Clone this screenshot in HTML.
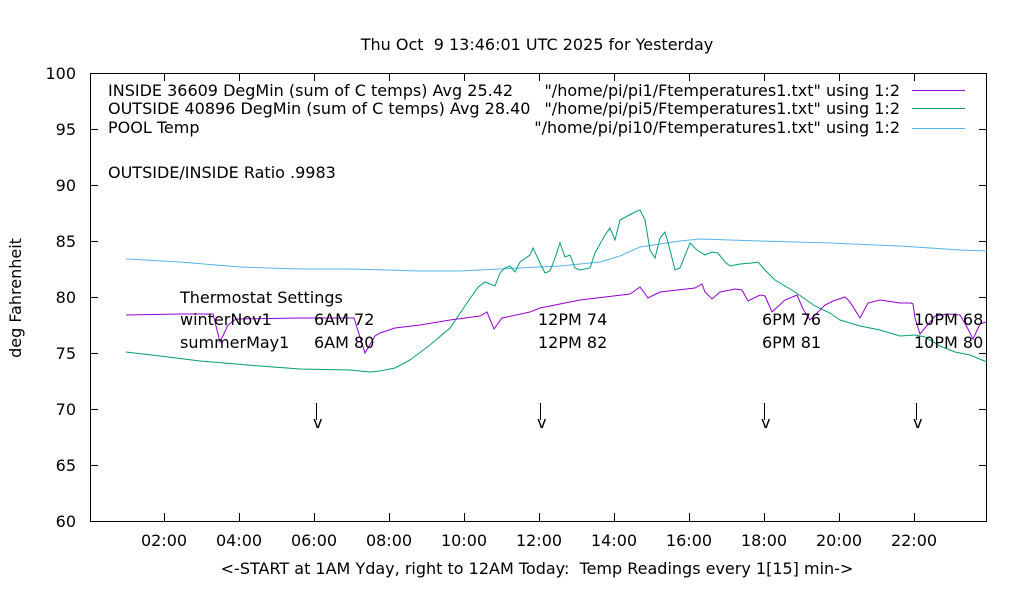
<!DOCTYPE html><html><head><style>body{margin:0;background:#fff}svg text{font-family:"DejaVu Sans",sans-serif;font-size:16px;fill:#000;white-space:pre}</style></head><body>
<svg width="1020" height="600" xmlns="http://www.w3.org/2000/svg" xml:space="preserve">
<text x="537" y="50" text-anchor="middle">Thu Oct  9 13:46:01 UTC 2025 for Yesterday</text>
<rect x="90.5" y="73.5" width="896" height="448" fill="none" stroke="#000"/>
<g stroke="#000">
<path d="M90 129.5h8M90 185.5h8M90 241.5h8M90 297.5h8M90 353.5h8M90 409.5h8M90 465.5h8M987 129.5h-8M987 185.5h-8M987 241.5h-8M987 297.5h-8M987 353.5h-8M987 409.5h-8M987 465.5h-8"/>
<path d="M164.5 521v-8M239.5 521v-8M314.5 521v-8M389.5 521v-8M464.5 521v-8M539.5 521v-8M614.5 521v-8M689.5 521v-8M764.5 521v-8M839.5 521v-8M914.5 521v-8M164.5 73v8M239.5 73v8M314.5 73v8M389.5 73v8M464.5 73v8M539.5 73v8M614.5 73v8M689.5 73v8M764.5 73v8M839.5 73v8M914.5 73v8"/>
</g>
<g text-anchor="end"><text x="76" y="79">100</text><text x="76" y="135">95</text><text x="76" y="191">90</text><text x="76" y="247">85</text><text x="76" y="303">80</text><text x="76" y="359">75</text><text x="76" y="415">70</text><text x="76" y="471">65</text><text x="76" y="527">60</text></g>
<g text-anchor="middle"><text x="164" y="546">02:00</text><text x="239" y="546">04:00</text><text x="314" y="546">06:00</text><text x="389" y="546">08:00</text><text x="464" y="546">10:00</text><text x="539" y="546">12:00</text><text x="614" y="546">14:00</text><text x="689" y="546">16:00</text><text x="764" y="546">18:00</text><text x="839" y="546">20:00</text><text x="914" y="546">22:00</text></g>
<text x="537" y="574" text-anchor="middle">&lt;-START at 1AM Yday, right to 12AM Today:  Temp Readings every 1[15] min-&gt;</text>
<text transform="translate(21,298) rotate(-90)" text-anchor="middle">deg Fahrenheit</text>
<text x="108" y="96">INSIDE 36609 DegMin (sum of C temps) Avg 25.42</text>
<text x="108" y="114">OUTSIDE 40896 DegMin (sum of C temps) Avg 28.40</text>
<text x="108" y="133">POOL Temp</text>
<g text-anchor="end"><text x="900" y="96">"/home/pi/pi1/Ftemperatures1.txt" using 1:2</text><text x="900" y="114">"/home/pi/pi5/Ftemperatures1.txt" using 1:2</text><text x="900" y="133">"/home/pi/pi10/Ftemperatures1.txt" using 1:2</text></g>
<path d="M912 90.5h53" stroke="#9400d3"/><path d="M912 108.5h53" stroke="#009e73"/><path d="M912 128.5h53" stroke="#56b4e9"/>
<text x="108" y="178">OUTSIDE/INSIDE Ratio .9983</text>
<polyline fill="none" stroke="#56b4e9" points="126,259 180,262 240,267 300,269 350,269 420,271 460,271 520,268 560,266 600,262 620,256 640,247 680,241 700,239 760,241 830,243 900,246 960,250 987,251"/>
<polyline fill="none" stroke="#009e73" points="126,352 160,356 200,361 260,366 300,369 350,370 370,372 380,371 395,368 410,360 430,345 450,328 465,306 478,287 485,282 495,286 500,273 505,268 510,266 515,272 520,262 530,255 533,248 540,263 545,273 550,271 555,258 560,243 565,257 570,255 575,268 580,270 590,268 595,253 605,235 610,228 615,240 620,220 635,212 640,210 645,220 650,250 655,258 660,238 665,232 670,250 675,270 680,268 690,243 697,250 705,255 712,252 718,253 725,262 730,266 740,264 752,263 758,262 765,270 775,280 795,292 815,306 830,313 840,320 860,326 880,330 900,336 915,335 925,337 940,346 955,352 970,355 987,362"/>
<polyline fill="none" stroke="#9400d3" points="126,315 180,314 213,314 220,342 228,325 236,319 300,318 354,318 365,353 375,336 380,333 395,328 420,325 450,320 480,316 487,312 494,329 502,318 530,312 540,308 580,300 630,294 640,287 648,298 660,292 695,288 702,284 705,292 712,299 720,292 735,289 742,290 748,301 760,295 765,296 772,312 785,300 797,295 803,309 810,320 825,305 833,301 845,297 850,302 860,318 868,303 880,300 900,303 911,303 913,304 915,318 920,334 935,316 948,314 960,315 967,327 973,339 980,324 986,322"/>
<text x="180" y="303">Thermostat Settings</text>
<text x="180" y="325">winterNov1</text><text x="314" y="325">6AM 72</text><text x="538" y="325">12PM 74</text><text x="762" y="325">6PM 76</text><text x="914" y="325">10PM 68</text>
<text x="180" y="348">summerMay1</text><text x="314" y="348">6AM 80</text><text x="538" y="348">12PM 82</text><text x="762" y="348">6PM 81</text><text x="914" y="348">10PM 80</text>
<g stroke="#000"><path d="M316.5 403v17M540.5 403v17M764.5 403v17M916.5 403v17"/></g>
<text x="313" y="428">v</text><text x="537" y="428">v</text><text x="761" y="428">v</text><text x="913" y="428">v</text>
</svg></body></html>
